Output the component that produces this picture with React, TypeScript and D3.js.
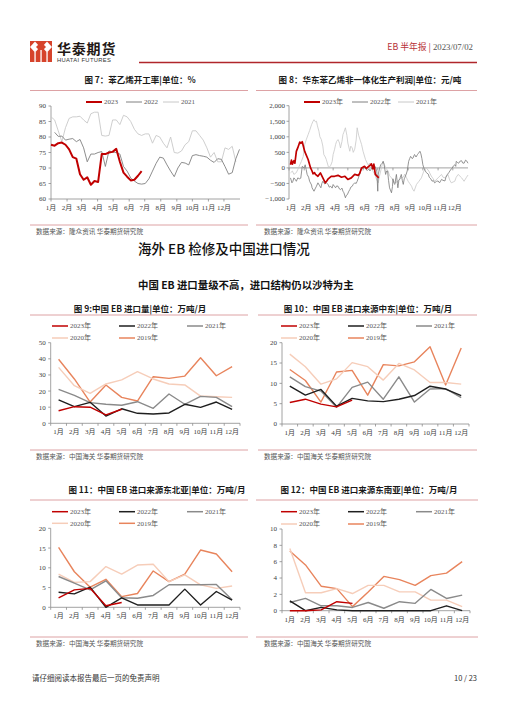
import * as d3 from "d3";

const MONTHS = ["1月", "2月", "3月", "4月", "5月", "6月", "7月", "8月", "9月", "10月", "11月", "12月"];
const MONTH_START_DAY = [0, 31, 59, 90, 120, 151, 181, 212, 243, 273, 304, 334];

// 图7 苯乙烯开工率，周度 %
const RUN_RATE_2023 = [77.5, 77.2, 78, 78.2, 77.5, 76, 73.5, 73, 68, 66.2, 67, 64.6, 65.8, 65.5, 74.5, 74.5, 75, 75.2, 76.2, 72, 68.5, 67.2, 66, 66.2, 67.5, 69];
const RUN_RATE_2022 = [81.5, 80.2, 80.3, 79, 79.3, 79.5, 78.5, 79.2, 76.5, 72, 74.5, 74.5, 75, 75.3, 70.5, 75.5, 75.2, 75, 74.5, 70.5, 69, 66.8, 65.8, 65, 64.8, 65, 66.5, 69, 71.5, 73.5, 73.2, 71, 69, 67.2, 70, 71.8, 71.6, 71, 74, 74.3, 74, 73.8, 73.5, 72.5, 71.8, 73, 72.8, 70.5, 68, 68.5, 73, 76];
const RUN_RATE_2021 = [86.5, 85.5, 82, 78.5, 83, 86, 86.5, 86.5, 86.7, 85.5, 84.5, 87.5, 88, 88, 80.5, 80.3, 80.5, 85.5, 85.5, 84, 87, 86.5, 85, 82.5, 81, 80.5, 81, 81, 78, 80.5, 80, 78, 76.5, 80, 75, 74.8, 75.5, 77.5, 78.5, 82, 82, 80.5, 79, 76.5, 73.5, 75, 72, 72, 76.5, 76, 77, 72];
// first week index of each run-rate series
const RUN_START_WEEK = { "2023": 0, "2022": 1, "2021": 0 };

// 图8 华东非一体化利润 [day of year, 元/吨]
const PROFIT_2023: [number, number][] = [
  [3, 100], [5, 250], [7, 120], [10, 230], [12, 150], [15, 530], [18, 650], [22, 830], [24, 790], [27, 840],
  [32, 530], [39, 270], [44, 0], [47, -100], [49, -190], [52, -150], [54, -210], [59, -270], [64, -160], [69, -320],
  [74, -480], [77, -420], [80, -350], [86, -270], [93, -270], [100, -240], [107, -300], [114, -270], [120, -370],
  [127, -320], [134, -210], [141, -240], [144, -180], [148, 0], [154, 50], [158, -20], [161, 30], [165, 80],
  [168, 130], [171, -30], [173, 120], [176, -210], [183, -320],
];
const PROFIT_2022: [number, number][] = [
  [3, -320], [6, -480], [8, -430], [10, -320], [13, -380], [15, -430], [18, -320], [21, -350], [24, -330], [27, 50],
  [31, 0], [33, 100], [35, -50], [37, -210], [40, -300], [42, -430], [46, -550], [47, -640], [51, -750], [54, -650],
  [56, -590], [59, -480], [62, -560], [65, -640], [67, -500], [69, -430], [73, -520], [76, -480], [80, -535], [82, -620],
  [85, -590], [88, -650], [90, -535], [93, -600], [95, -640], [97, -580], [100, -590], [103, -680], [105, -700], [108, -650],
  [110, -750], [112, -800], [115, -960], [117, -880], [119, -860], [122, -750], [124, -700], [126, -620], [129, -590],
  [131, -530], [134, -480], [137, -500], [139, -430], [142, -300], [144, -210], [146, -100], [149, 0], [152, -30],
  [154, 50], [157, -50], [160, -80], [163, -30], [165, -100], [167, -50], [169, 0], [171, 80], [173, 100], [176, 30],
  [179, -100], [181, -750], [182, -200], [185, 0], [187, 100], [190, 150], [192, 210], [194, 100], [197, -210],
  [199, -100], [201, -100], [203, -400], [205, -640], [209, -800], [211, -600], [212, -350], [214, -500], [216, -530],
  [218, -300], [219, -210], [221, -500], [222, -640], [224, -400], [226, -350], [228, -250], [229, -210], [231, -400],
  [233, -530], [235, -350], [236, -320], [239, -200], [241, -100], [244, 210], [246, 300], [248, 370], [251, 300],
  [253, 320], [255, 400], [256, 430], [259, 350], [262, 430], [264, 470], [267, 535], [269, 450], [271, 300],
  [273, 100], [275, 0], [278, -100], [280, -150], [284, -200], [286, -300], [289, -350], [292, -430], [294, -400],
  [297, -480], [301, -430], [304, -420], [307, -480], [311, -370], [314, -400], [318, -420], [320, -300], [323, -210],
  [326, -150], [328, -100], [331, -30], [333, 0], [335, 60], [338, 100], [340, 50], [341, 210], [343, 180], [346, 150],
  [349, 220], [352, 230], [354, 160], [357, 150], [360, 250], [362, 230], [365, 150],
];
const PROFIT_2021: [number, number][] = [
  [3, -160], [7, -100], [10, -210], [15, -150], [18, -50], [22, 100], [25, 200], [29, 370], [32, 750], [35, 900],
  [39, 1070], [42, 1200], [46, 1390], [49, 1500], [51, 1550], [54, 1480], [56, 1500], [58, 1350], [61, 1180], [63, 1000],
  [66, 910], [69, 700], [71, 430], [74, 350], [76, 270], [81, 0], [85, 80], [88, 200], [90, 430], [93, 600], [95, 750],
  [97, 850], [100, 910], [103, 800], [105, 640], [108, 850], [110, 1070], [112, 1150], [115, 1290], [118, 1050],
  [120, 800], [124, 535], [126, 700], [129, 640], [131, 500], [134, 600], [137, 900], [139, 1290], [142, 1050],
  [145, 900], [148, 750], [151, 535], [156, 270], [161, 100], [165, 150], [168, 0], [171, -100], [175, -210],
  [178, -350], [182, -480], [184, -300], [187, -100], [190, 100], [192, 210], [197, 0], [202, -100], [205, -250],
  [209, -320], [212, -400], [216, -480], [222, -430], [229, -320], [233, -300], [236, -200], [239, -300], [243, -430],
  [246, -500], [250, -590], [252, -680], [255, -750], [260, -530], [265, -430], [270, -320], [275, -100], [280, 0],
  [285, -100], [290, -260], [294, -350], [297, -430], [304, -320], [311, -210], [314, -300], [318, -320], [324, -210],
  [328, -400], [331, -480], [338, -430], [341, -300], [345, -210], [352, -320], [357, -430], [362, -300], [365, -230],
];

// 图9 中国EB进口量，万吨/月
const IMPORT_2023 = [7.8, 10.3, 10, 5.2, 8.7];
const IMPORT_2022 = [14.5, 10.3, 13, 4.5, 9, 6.2, 5.8, 6.4, 11.8, 9.9, 13.2, 8.7];
const IMPORT_2021 = [21, 17.3, 12.8, 11.8, 11.2, 13.4, 9.3, 18.2, 11.8, 16.7, 16.1, 10.3];
const IMPORT_2020 = [34.7, 23.3, 18.6, 24.4, 26.9, 32, 27.5, 24.4, 23.8, 16.9, 16.5, 16.1];
const IMPORT_2019 = [39.7, 27.5, 13.2, 23.8, 16.1, 13.8, 28.9, 27.9, 29.3, 40.7, 29.5, 35.1];

// 图10 进口来源中东
const MIDEAST_2023 = [5.3, 6.1, 4.9, 4.2, 5.9];
const MIDEAST_2022 = [9.3, 7.1, 8.5, 4.4, 6.3, 5.7, 5.5, 6.1, 7, 9.3, 8.6, 7];
const MIDEAST_2021 = [11.6, 9.2, 8.1, 4.1, 9, 10.3, 6.1, 11.6, 5.4, 8.6, 8.7, 6.5];
const MIDEAST_2020 = [17.2, 14.1, 9.8, 11.1, 15.1, 14.1, 10.8, 14.9, 13.3, 10.2, 10.2, 9.8];
const MIDEAST_2019 = [13.4, 10.7, 5.4, 12.8, 13.2, 7.1, 14.6, 14.3, 15.3, 19, 9.6, 18.7];

// 图11 进口来源东北亚
const NEASIA_2023 = [2.4, 4.4, 4.8, 0.4, 1.2];
const NEASIA_2022 = [3.8, 3.4, 5.1, 0, 2.4, 0.6, 0.6, 0.6, 4.6, 0.6, 4, 1.8];
const NEASIA_2021 = [7.8, 6.1, 4.4, 6.7, 2.4, 2.3, 3, 5.7, 5.7, 5.7, 5.8, 1.9];
const NEASIA_2020 = [8.4, 6.3, 6.5, 10.3, 8.4, 10.7, 10.9, 6.5, 8.2, 5.7, 4.8, 5.4];
const NEASIA_2019 = [15.2, 9, 5.1, 7.1, 2.7, 3.5, 9.2, 6.5, 8.4, 14.5, 13.5, 9];

// 图12 进口来源东南亚
const SEASIA_2023 = [0, 0, 0.1, 1.1, 0.9];
const SEASIA_2022 = [1.2, 0, 0.4, 0.1, 0, 0, 0, 0, 0, 0, 0.6, 0];
const SEASIA_2021 = [1, 1.5, 0.6, 0.6, 0.4, 1, 0.3, 1.1, 0.9, 2.6, 1.5, 1.9];
const SEASIA_2020 = [7.6, 2.2, 2.2, 2.7, 2.1, 3.1, 3.1, 2.3, 2.3, 1.3, 1.3, 0.5];
const SEASIA_2019 = [7.3, 5.6, 3, 2.7, 0.5, 2.3, 4.2, 3.8, 3.1, 4.3, 4.6, 6];

const SERIF = "'Liberation Serif','Noto Sans CJK SC',serif";
const SANS = "'Noto Sans CJK SC','Noto Sans',sans-serif";
const AXIS = "#8c8c8c";
const TICK_TEXT = "#404040";
const RULE = "#d48a8e";

const YEAR_COLORS: Record<string, string> = {
  "2023年": "#c00000",
  "2022年": "#1f1f1f",
  "2021年": "#8a8a8a",
  "2020年": "#f6cdb9",
  "2019年": "#e8845c",
};

type Series = { name: string; values: number[] };

function Title({ x, y, text }: { x: number; y: number; text: string }) {
  return (
    <text x={x} y={y} dy="0.35em" textAnchor="middle" fontFamily={SANS} fontWeight={700} fontSize={8.5} fill="#1a1a1a">
      {text}
    </text>
  );
}

function Source({ x, y, text }: { x: number; y: number; text: string }) {
  return (
    <text x={x} y={y} dy="0.35em" fontFamily={SANS} fontSize={6.6} fill="#555">
      {text}
    </text>
  );
}

function Rule({ x1, x2, y, color = RULE, w = 0.8 }: { x1: number; x2: number; y: number; color?: string; w?: number }) {
  return <line x1={x1} x2={x2} y1={y} y2={y} stroke={color} strokeWidth={w} />;
}

function LegendItem({ x, y, label, color, width = 1.4 }: { x: number; y: number; label: string; color: string; width?: number }) {
  return (
    <g>
      <line x1={x} x2={x + 16} y1={y} y2={y} stroke={color} strokeWidth={width} />
      <text x={x + 18} y={y} dy="0.35em" fontFamily={SERIF} fontSize={7} fill="#595959">
        {label}
      </text>
    </g>
  );
}

// 周度开工率
function RunRateChart() {
  const x = d3.scaleLinear().domain([0, 365]).range([51, 240]);
  const y = d3.scaleLinear().domain([60, 90]).range([199, 106]);
  const ticks = d3.range(60, 91, 5);
  const line = (vals: number[], startWeek: number) =>
    d3.line<number>().x((_, i) => x((i + startWeek) * 7)).y((d) => y(d))(vals) ?? "";
  return (
    <g>
      <Title x={140} y={80} text="图 7：苯乙烯开工率|单位：%" />
      <Rule x1={30} x2={248} y={90.5} />
      <LegendItem x={86} y={102} label="2023" color="#c00000" width={2} />
      <LegendItem x={126} y={102} label="2022" color="#808080" width={1} />
      <LegendItem x={163} y={102} label="2021" color="#c8c8c8" width={1} />
      <line x1={x(0)} x2={x(0)} y1={y(90)} y2={y(60)} stroke={AXIS} strokeWidth={0.8} />
      <line x1={x(0)} x2={x(365)} y1={y(60)} y2={y(60)} stroke={AXIS} strokeWidth={0.8} />
      {ticks.map((t) => (
        <g key={t}>
          <line x1={x(0) - 2.5} x2={x(0)} y1={y(t)} y2={y(t)} stroke={AXIS} strokeWidth={0.8} />
          <text x={x(0) - 5} y={y(t)} dy="0.35em" textAnchor="end" fontFamily={SERIF} fontSize={7} fill={TICK_TEXT}>
            {t}
          </text>
        </g>
      ))}
      {MONTH_START_DAY.map((d, i) => (
        <g key={d}>
          <line x1={x(d)} x2={x(d)} y1={y(60)} y2={y(60) + 2.5} stroke={AXIS} strokeWidth={0.8} />
          <text x={x(d)} y={208} dy="0.35em" textAnchor="middle" fontFamily={SERIF} fontSize={7} fill={TICK_TEXT}>
            {MONTHS[i]}
          </text>
        </g>
      ))}
      <path d={line(RUN_RATE_2021, RUN_START_WEEK["2021"])} fill="none" stroke="#c8c8c8" strokeWidth={0.9} />
      <path d={line(RUN_RATE_2022, RUN_START_WEEK["2022"])} fill="none" stroke="#808080" strokeWidth={0.9} />
      <path d={line(RUN_RATE_2023, RUN_START_WEEK["2023"])} fill="none" stroke="#c00000" strokeWidth={2} strokeLinejoin="round" />
      <Rule x1={30} x2={248} y={225} />
      <Source x={36} y={232} text="数据来源：隆众资讯  华泰期货研究院" />
    </g>
  );
}

// 日度利润
function ProfitChart() {
  const x = d3.scaleLinear().domain([0, 365]).range([289, 468]);
  const y = d3.scaleLinear().domain([-1000, 2000]).range([199, 105.7]);
  const ticks = d3.range(-1000, 2001, 500);
  const fmt = d3.format(",");
  const line = d3.line<[number, number]>().x((d) => x(d[0])).y((d) => y(d[1]));
  return (
    <g>
      <Title x={370} y={80} text="图 8：华东苯乙烯非一体化生产利润|单位：元/吨" />
      <Rule x1={256} x2={477} y={90.5} />
      <LegendItem x={304} y={102} label="2023年" color="#c00000" width={2} />
      <LegendItem x={352} y={102} label="2022年" color="#808080" width={1} />
      <LegendItem x={398} y={102} label="2021年" color="#c8c8c8" width={1} />
      <line x1={x(0)} x2={x(0)} y1={y(2000)} y2={y(-1000)} stroke={AXIS} strokeWidth={0.8} />
      <line x1={x(0)} x2={x(365)} y1={y(0)} y2={y(0)} stroke={AXIS} strokeWidth={0.8} />
      {ticks.map((t) => (
        <g key={t}>
          <line x1={x(0) - 2.5} x2={x(0)} y1={y(t)} y2={y(t)} stroke={AXIS} strokeWidth={0.8} />
          <text x={x(0) - 4} y={y(t)} dy="0.35em" textAnchor="end" fontFamily={SERIF} fontSize={7} fill={TICK_TEXT}>
            {fmt(t)}
          </text>
        </g>
      ))}
      {MONTH_START_DAY.map((d, i) => (
        <g key={d}>
          <line x1={x(d)} x2={x(d)} y1={y(0)} y2={y(0) + 2.5} stroke={AXIS} strokeWidth={0.8} />
          <text x={x(d) + 2} y={208} dy="0.35em" textAnchor="middle" fontFamily={SERIF} fontSize={7} fill={TICK_TEXT}>
            {MONTHS[i]}
          </text>
        </g>
      ))}
      <path d={line(PROFIT_2021) ?? ""} fill="none" stroke="#c8c8c8" strokeWidth={0.8} />
      <path d={line(PROFIT_2022) ?? ""} fill="none" stroke="#7a7a7a" strokeWidth={0.8} />
      <path d={line(PROFIT_2023) ?? ""} fill="none" stroke="#c00000" strokeWidth={1.7} strokeLinejoin="round" />
      <Rule x1={256} x2={477} y={225} />
      <Source x={264} y={232} text="数据来源：隆众资讯  华泰期货研究院" />
    </g>
  );
}

type MonthlyProps = {
  title: string;
  titleX: number;
  titleY: number;
  ruleX: [number, number];
  ruleY: number;
  x0: number;
  x1: number;
  yTop: number;
  yBottom: number;
  max: number;
  step: number;
  legendX: number[];
  legendY: [number, number];
  series: Series[];
  sourceX: number;
  sourceY: number;
};

function MonthlyChart(p: MonthlyProps) {
  const x = d3.scalePoint<string>().domain(MONTHS).range([p.x0, p.x1]).padding(0.5);
  const band = (p.x1 - p.x0) / MONTHS.length;
  const y = d3.scaleLinear().domain([0, p.max]).range([p.yBottom, p.yTop]);
  const ticks = d3.range(0, p.max + p.step / 2, p.step);
  const line = d3.line<number>().x((_, i) => x(MONTHS[i]) ?? 0).y((d) => y(d));
  const slots = [
    [p.legendX[0], p.legendY[0]],
    [p.legendX[1], p.legendY[0]],
    [p.legendX[2], p.legendY[0]],
    [p.legendX[0], p.legendY[1]],
    [p.legendX[1], p.legendY[1]],
  ];
  return (
    <g>
      <Title x={p.titleX} y={p.titleY} text={p.title} />
      <Rule x1={p.ruleX[0]} x2={p.ruleX[1]} y={p.ruleY} />
      {p.series.map((s, i) => (
        <LegendItem key={s.name} x={slots[i][0]} y={slots[i][1]} label={s.name} color={YEAR_COLORS[s.name]} width={1.5} />
      ))}
      <line x1={p.x0} x2={p.x0} y1={y(p.max)} y2={y(0)} stroke={AXIS} strokeWidth={0.8} />
      <line x1={p.x0} x2={p.x1} y1={y(0)} y2={y(0)} stroke={AXIS} strokeWidth={0.8} />
      {ticks.map((t) => (
        <g key={t}>
          <line x1={p.x0 - 2.5} x2={p.x0} y1={y(t)} y2={y(t)} stroke={AXIS} strokeWidth={0.8} />
          <text x={p.x0 - 5} y={y(t)} dy="0.35em" textAnchor="end" fontFamily={SERIF} fontSize={7} fill={TICK_TEXT}>
            {t}
          </text>
        </g>
      ))}
      {d3.range(MONTHS.length + 1).map((i) => (
        <line key={i} x1={p.x0 + i * band} x2={p.x0 + i * band} y1={y(0)} y2={y(0) + 2.5} stroke={AXIS} strokeWidth={0.8} />
      ))}
      {MONTHS.map((m) => (
        <text key={m} x={x(m)} y={y(0) + 8.6} dy="0.35em" textAnchor="middle" fontFamily={SERIF} fontSize={7} fill={TICK_TEXT}>
          {m}
        </text>
      ))}
      {[...p.series].reverse().map((s) => (
        <path key={s.name} d={line(s.values) ?? ""} fill="none" stroke={YEAR_COLORS[s.name]} strokeWidth={1.4} strokeLinejoin="round" />
      ))}
      <Rule x1={p.ruleX[0]} x2={p.ruleX[1]} y={p.sourceY - 7} />
      <Source x={p.sourceX} y={p.sourceY} text="数据来源：中国海关  华泰期货研究院" />
    </g>
  );
}

function Logo() {
  return (
    <g>
      <rect x={30} y={41} width={22} height={21} fill="#d6432b" />
      <path d="M30 47 L35 41.5 L40 47 L35 52.5 Z" fill="#fff" />
      <path d="M42 47 L47 41.5 L52 47 L47 52.5 Z" fill="#fff" />
      <path d="M36 47 L41 42 L46 47 L41 52 Z" fill="#d6432b" />
      <rect x={34.4} y={52} width={1.3} height={10} fill="#fff" />
      <rect x={40.4} y={50} width={1.3} height={12} fill="#fff" />
      <rect x={46.4} y={52} width={1.3} height={10} fill="#fff" />
      <text x={57} y={49} dy="0.35em" fontFamily={SANS} fontWeight={700} fontSize={14} fill="#231815" letterSpacing={0.8}>
        华泰期货
      </text>
      <text x={57} y={60} dy="0.35em" fontFamily="'Liberation Sans',Arial,sans-serif" fontSize={5.8} fill="#333" letterSpacing={0.35}>
        HUATAI FUTURES
      </text>
    </g>
  );
}

const LEFT_LEGEND = [52, 119, 187];
const RIGHT_LEGEND = [281, 348, 416];

const mk = (a: number[], b: number[], c: number[], d: number[], e: number[]): Series[] => [
  { name: "2023年", values: a },
  { name: "2022年", values: b },
  { name: "2021年", values: c },
  { name: "2020年", values: d },
  { name: "2019年", values: e },
];

export default function App() {
  return (
    <div style={{ position: "absolute", left: 0, top: 0, width: 508, height: 720, background: "#fff" }}>
      <svg width={508} height={720} viewBox="0 0 508 720" style={{ display: "block" }}>
        <rect width={508} height={720} fill="#fff" />
        <Logo />
        <text x={473} y={47} dy="0.35em" textAnchor="end" fontSize={8.8}>
          <tspan fontFamily={SANS} fill="#b8323a">EB 半年报</tspan>
          <tspan fontFamily={SANS} fill="#b8323a"> | </tspan>
          <tspan fontFamily={SERIF} fill="#555">2023/07/02</tspan>
        </text>
        <Rule x1={139} x2={477} y={62.5} color="#b0262b" w={1.3} />

        <RunRateChart />
        <ProfitChart />

        <text x={138} y={249} dy="0.35em" fontFamily={SANS} fontWeight={500} fontSize={13.5} fill="#111">
          海外 EB 检修及中国进口情况
        </text>
        <text x={138} y={285} dy="0.35em" fontFamily={SANS} fontWeight={700} fontSize={10.4} fill="#111">
          中国 EB 进口量级不高，进口结构仍以沙特为主
        </text>

        <MonthlyChart
          title="图 9:中国 EB 进口量|单位：万吨/月" titleX={140} titleY={309}
          ruleX={[30, 248]} ruleY={315}
          x0={50.7} x1={240} yTop={342.7} yBottom={423.3} max={50} step={10}
          legendX={LEFT_LEGEND} legendY={[326, 338]}
          series={mk(IMPORT_2023, IMPORT_2022, IMPORT_2021, IMPORT_2020, IMPORT_2019)}
          sourceX={36} sourceY={457}
        />
        <MonthlyChart
          title="图 10：中国 EB 进口来源中东|单位：万吨/月" titleX={368} titleY={309}
          ruleX={[258, 477]} ruleY={315}
          x0={282} x1={469} yTop={342.7} yBottom={424} max={20} step={5}
          legendX={RIGHT_LEGEND} legendY={[326, 338]}
          series={mk(MIDEAST_2023, MIDEAST_2022, MIDEAST_2021, MIDEAST_2020, MIDEAST_2019)}
          sourceX={264} sourceY={457}
        />
        <MonthlyChart
          title="图 11：中国 EB 进口来源东北亚|单位：万吨/月" titleX={157} titleY={490}
          ruleX={[30, 248]} ruleY={500}
          x0={50.7} x1={240} yTop={528.3} yBottom={607.3} max={20} step={5}
          legendX={LEFT_LEGEND} legendY={[511.7, 523.3]}
          series={mk(NEASIA_2023, NEASIA_2022, NEASIA_2021, NEASIA_2020, NEASIA_2019)}
          sourceX={36} sourceY={644}
        />
        <MonthlyChart
          title="图 12：中国 EB 进口来源东南亚|单位：万吨/月" titleX={369} titleY={490}
          ruleX={[256, 478]} ruleY={500}
          x0={282} x1={470} yTop={529} yBottom={610.7} max={10} step={2}
          legendX={RIGHT_LEGEND} legendY={[511.7, 524]}
          series={mk(SEASIA_2023, SEASIA_2022, SEASIA_2021, SEASIA_2020, SEASIA_2019)}
          sourceX={264} sourceY={644}
        />

        <text x={32} y={678} dy="0.35em" fontFamily={SANS} fontSize={7.5} fill="#333">
          请仔细阅读本报告最后一页的免责声明
        </text>
        <text x={477} y={678} dy="0.35em" textAnchor="end" fontFamily={SANS} fontSize={7.5} fill="#333">
          10 / 23
        </text>
      </svg>
    </div>
  );
}
